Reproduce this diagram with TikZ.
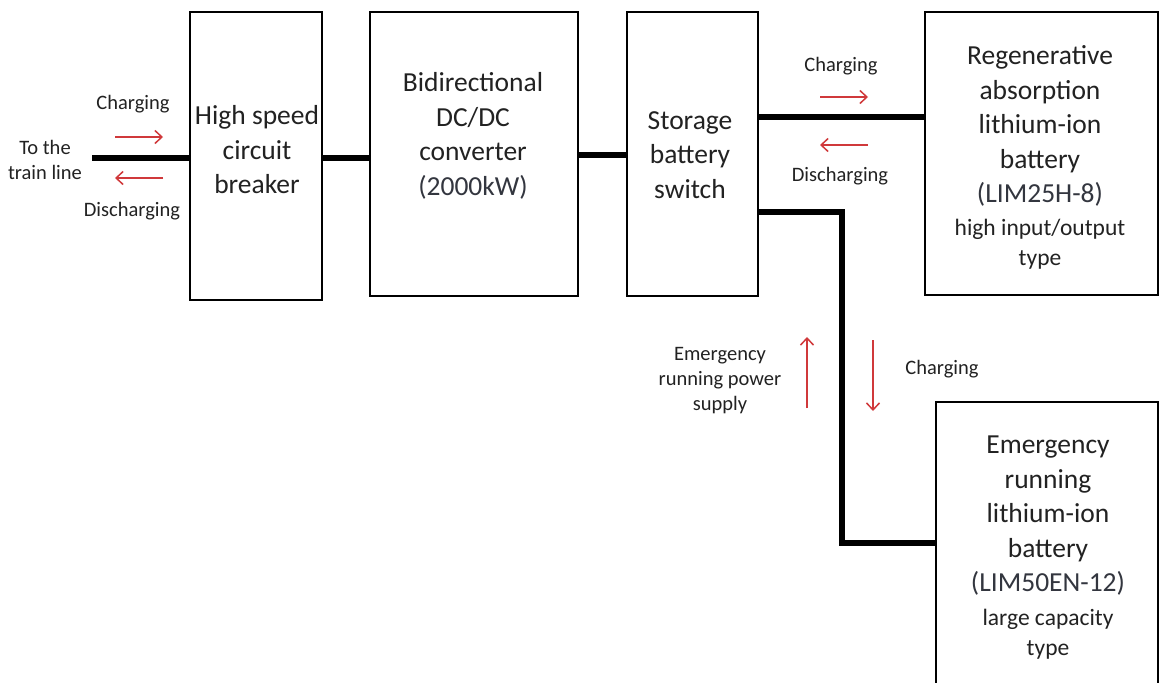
\documentclass[tikz,border=0pt]{standalone}
\usepackage{fontspec}
\setmainfont{Carlito}
\usetikzlibrary{arrows.meta,calc}
\definecolor{txt}{HTML}{222222}
\definecolor{paren}{HTML}{33363F}
\definecolor{arr}{HTML}{D0393B}
\tikzset{
  box/.style={draw=black, line width=2.6pt, inner sep=0pt},
  big/.style={text=txt, align=center, inner sep=0pt, font=\fontsize{27.5}{34.5}\selectfont},
  mid/.style={text=txt, align=center, inner sep=0pt, font=\fontsize{23.5}{29.5}\selectfont},
  small/.style={text=txt, align=center, inner sep=0pt, font=\fontsize{20.5}{25}\selectfont},
  wire/.style={line width=5.5pt, black},
  flow/.style={draw=arr, line width=1.5pt, -{Straight Barb[length=7pt,width=13pt,line width=1.5pt]}}
}
\begin{document}
\begin{tikzpicture}[x=1pt,y=-1pt]
\clip (0,0) rectangle (1160,683);
\fill[white] (0,0) rectangle (1160,683);
% boxes
\node[box, minimum width=132, minimum height=288] (hscb) at (256,156) {};
\node[box, minimum width=208, minimum height=284] (bidir) at (474,154) {};
\node[box, minimum width=131, minimum height=284] (storage) at (692.5,154) {};
\node[box, minimum width=233, minimum height=283] (regen) at (1041.5,153.5) {};
\node[box, minimum width=222, minimum height=320] (emerg) at (1047,562) {};
% box texts
\node[big] (hscbt) at (257,150) {High speed\\circuit\\breaker};
\node[big] (bidirt) at (473,136) {Bidirectional\\DC/DC\\converter\\\textcolor{paren}{(2000kW)}};
\node[big] (storaget) at (690,155) {Storage\\battery\\switch};
\node[big] (regent) at (1040,126) {Regenerative\\absorption\\lithium-ion\\battery\\\textcolor{paren}{(LIM25H-8)}};
\node[mid] (regens) at (1040,244) {high input/output\\type};
\node[big] (emergt) at (1048,516) {Emergency\\running\\lithium-ion\\battery\\\textcolor{paren}{(LIM50EN-12)}};
\node[mid] (emergs) at (1048,634) {large capacity\\type};
% wires
\coordinate (train) at (92,158);
\coordinate (bend) at (842,543);
\draw[wire] (train) -- (train -| hscb.west);
\draw[wire] (hscb.east |- 0,158) -- (bidir.west |- 0,158);
\draw[wire] (bidir.east |- 0,155) -- (storage.west |- 0,155);
\draw[wire] (storage.east |- 0,117) -- (regen.west |- 0,117);
\draw[wire] (storage.east |- 0,212) -| (bend) -- (bend -| emerg.west);
% labels
\node[small] (tothe) at (45,160) {To the\\train line};
\node[small] (chl) at (133,104) {Charging};
\node[small] (dchl) at (132,211) {Discharging};
\node[small] (chr) at (841,66) {Charging};
\node[small] (dchr) at (840,176) {Discharging};
\node[small] (chd) at (942,369) {Charging};
\node[small] (emsup) at (720,381) {Emergency\\running power\\supply};
% red arrows
\coordinate (a1s) at (115,137); \coordinate (a1e) at (163,137);
\coordinate (a2s) at (163,178); \coordinate (a2e) at (115,178);
\coordinate (a3s) at (820,97); \coordinate (a3e) at (868,97);
\coordinate (a4s) at (868,145); \coordinate (a4e) at (820,145);
\coordinate (a5s) at (807,408); \coordinate (a5e) at (807,337);
\coordinate (a6s) at (873,340); \coordinate (a6e) at (873,411);
\draw[flow] (a1s) -- (a1e);
\draw[flow] (a2s) -- (a2e);
\draw[flow] (a3s) -- (a3e);
\draw[flow] (a4s) -- (a4e);
\draw[flow] (a5s) -- (a5e);
\draw[flow] (a6s) -- (a6e);
\end{tikzpicture}
\end{document}
